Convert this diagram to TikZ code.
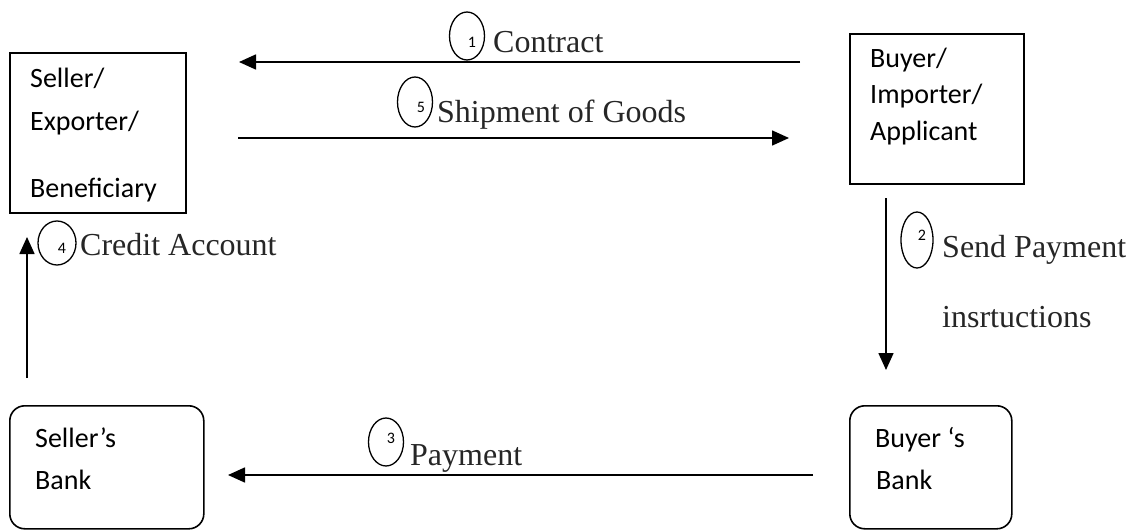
\documentclass[tikz,border=0pt]{standalone}
\usepackage{fontspec}
\setmainfont{Liberation Serif}
\newfontfamily\calfont{Carlito}
\usetikzlibrary{arrows.meta,shapes.geometric}
\begin{document}
\begin{tikzpicture}[x=1pt,y=-1pt,
  box/.style={draw, line width=1.6pt, inner sep=0pt, anchor=north west},
  rbox/.style={box, rounded corners=15pt},
  boxtext/.style={anchor=base west, inner sep=0pt, font=\calfont\fontsize{28}{30}\selectfont},
  lbl/.style={anchor=base west, inner sep=0pt, text=black!85, font=\fontsize{32}{36}\selectfont},
  ell/.style={draw, ellipse, line width=1.3pt, inner sep=0pt, minimum width=35pt, minimum height=48pt},
  num/.style={inner sep=0pt, font=\calfont\fontsize{16}{18}\selectfont},
  arr/.style={line width=1.6pt, -{Triangle[length=17pt,width=15pt]}}
]
\useasboundingbox (0,0) rectangle (1128,530);

% boxes
\node[box, minimum width=176pt, minimum height=160pt] (seller) at (9,52) {};
\node[box, minimum width=174pt, minimum height=150pt] (buyer) at (849,33) {};
\node[rbox, minimum width=194pt, minimum height=123pt] (sbank) at (9,405) {};
\node[rbox, minimum width=162pt, minimum height=123pt] (bbank) at (849,405) {};

% box texts
\node[boxtext] (s1) at (30,87) {Seller/};
\node[boxtext] (s2) at (30,130) {Exporter/};
\node[boxtext] (s3) at (30,197) {Beneficiary};
\node[boxtext] (b1) at (870,67) {Buyer/};
\node[boxtext] (b2) at (870,103) {Importer/};
\node[boxtext] (b3) at (870,140) {Applicant};
\node[boxtext] (sb1) at (35,447) {Seller’s};
\node[boxtext] (sb2) at (35,489) {Bank};
\node[boxtext] (bb1) at (875,447) {Buyer ‘s};
\node[boxtext] (bb2) at (876,489) {Bank};

% arrow end points
\coordinate (a1s) at (800,62);  \coordinate (a1e) at (239,62);
\coordinate (a5s) at (238,138); \coordinate (a5e) at (789,138);
\coordinate (a2s) at (886,198); \coordinate (a2e) at (886,370);
\coordinate (a4s) at (27,378);  \coordinate (a4e) at (27,237);
\coordinate (a3s) at (813,475); \coordinate (a3e) at (228,475);

\draw[arr] (a1s) -- (a1e);
\draw[arr] (a5s) -- (a5e);
\draw[arr] (a2s) -- (a2e);
\draw[arr] (a4s) -- (a4e);
\draw[arr] (a3s) -- (a3e);

% step markers
\node[ell] (e1) at (467,36) {};
\node[num] (n1) at (472,42) {1};
\node[lbl] (l1) at (493,52) {Contract};

\node[ell, minimum height=50pt] (e5) at (415,102) {};
\node[num] (n5) at (421,107) {5};
\node[lbl] (l5) at (437,122) {Shipment of Goods};

\node[ell, minimum width=32pt, minimum height=56pt] (e2) at (917,240) {};
\node[num] (n2) at (922,235) {2};
\node[lbl] (l2a) at (942,257) {Send Payment};
\node[lbl] (l2b) at (942,327) {insrtuctions};

\node[ell, minimum width=38pt, minimum height=44pt] (e4) at (57,243) {};
\node[num] (n4) at (62,248) {4};
\node[lbl] (l4) at (80,255) {Credit Account};

\node[ell] (e3) at (386,442) {};
\node[num] (n3) at (391,438) {3};
\node[lbl] (l3) at (410,465) {Payment};
\end{tikzpicture}
\end{document}
